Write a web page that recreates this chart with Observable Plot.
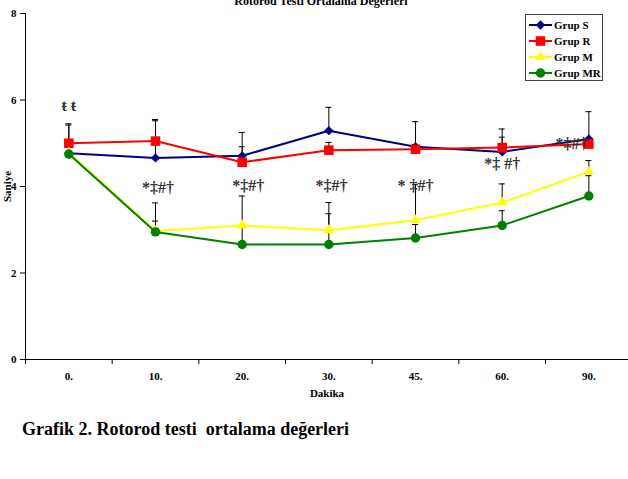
<!DOCTYPE html>
<html>
<head>
<meta charset="utf-8">
<script src="https://cdn.jsdelivr.net/npm/d3@7"></script>
<script src="https://cdn.jsdelivr.net/npm/@observablehq/plot@0.6"></script>
<style>
  body { margin: 0; background: #fff; overflow: hidden; }
  #wrap { position: relative; width: 628px; height: 479px; font-family: "Liberation Serif", "Times New Roman", serif; }
  #chart { position: absolute; left: 0; top: 0; }
  #chart svg text { font-weight: bold; font-family: "Liberation Serif", "Times New Roman", serif; }
  #chart svg text.note { font-weight: normal; }
  #title { position: absolute; top: -6px; left: 221px; width: 200px; text-align: center; font-weight: bold; font-size: 12px; white-space: nowrap; }
  #caption { position: absolute; left: 22px; top: 419px; font-weight: bold; font-size: 18px; white-space: pre; }
  #legend { position: absolute; left: 525px; top: 14px; width: 78px; height: 67px; border: 1px solid #444; background: #fff; box-sizing: border-box; }
  .item { position: absolute; left: 0; height: 14px; display: flex; align-items: center; white-space: nowrap; width: 80px; }
  .item span { font-weight: bold; font-size: 11px; margin-left: 1px; line-height: 14px; white-space: nowrap; }
</style>
</head>
<body>
<div id="wrap">
  <div id="chart"></div>
  <div id="title">Rotorod Testi Ortalama Değerleri</div>
  <div id="legend"></div>
  <div id="caption">Grafik 2. Rotorod testi  ortalama değerleri</div>
</div>
<script>
// Time points (minutes) shown along the x axis
const categories = ["0.", "10.", "20.", "30.", "45.", "60.", "90."];
const groups = ["Grup S", "Grup R", "Grup M", "Grup MR"];
const colors = ["#000080", "#ff0000", "#ffff00", "#008000"];
const symbols = ["diamond2", "square", "triangle", "circle"];
const markerR = [4.2, 5.4, 3.9, 4.7];

// Mean rotarod time (s) per group
const grupS  = [4.77, 4.66, 4.71, 5.29, 4.92, 4.80, 5.10];
const grupR  = [5.00, 5.05, 4.56, 4.84, 4.86, 4.90, 4.98];
const grupM  = [4.78, 2.97, 3.10, 2.99, 3.22, 3.63, 4.34];
const grupMR = [4.75, 2.95, 2.66, 2.66, 2.81, 3.10, 3.78];

// Upper end of the error bar (mean + SD)
const upperS  = [5.45, 5.52, 5.25, 5.83, 5.50, 5.33, 5.73];
const upperR  = [5.42, 5.55, 4.92, 5.02, 4.97, 5.14, 5.08];
const upperM  = [5.05, 3.62, 3.78, 3.63, 4.04, 4.06, 4.60];
const upperMR = [4.95, 3.20, 3.05, 3.37, 3.12, 3.44, 4.25];

// Significance markers: category position and height (s)
const noteText = ["ŧ ŧ", "*‡#†", "*‡#†", "*‡#†", "* ‡#†", "*‡ #†", "*‡#†"];
const noteX    = [0, 1.03, 2.07, 3.03, 4.0, 5.0, 5.8];
const noteY    = [5.87, 3.97, 4.02, 4.02, 4.02, 4.53, 4.99];

const means = [grupS, grupR, grupM, grupMR];
const uppers = [upperS, upperR, upperM, upperMR];

const series = groups.map((g, k) =>
  categories.map((c, i) => ({ g, i, v: means[k][i], hi: uppers[k][i] }))
);
const allRows = series.flat();
const notes = noteText.map((t, j) => ({ t, x: noteX[j], y: noteY[j] }));

const bounds = d3.range(-0.5, categories.length, 1);
const serif = '"Liberation Serif", "Times New Roman", serif';

const plot = Plot.plot({
  width: 628,
  height: 410,
  marginLeft: 25,
  marginRight: 0,
  marginTop: 13,
  marginBottom: 51,
  style: { fontFamily: serif, fontSize: "11px", color: "#000", background: "transparent" },
  x: { domain: [-0.5, categories.length - 0.5], range: [25, 631.7] },
  y: { domain: [0, 8], range: [359, 13] },
  marks: [
    // axes
    Plot.ruleX([-0.5], { y1: 0, y2: 8, stroke: "#000" }),
    Plot.ruleY([0], { stroke: "#000" }),
    Plot.axisY({ ticks: [0, 2, 4, 6, 8], tickSize: 5, tickPadding: 4, fontSize: 11,
      label: "Saniye", labelAnchor: "center", labelArrow: "none", labelOffset: 22 }),
    Plot.axisX({ ticks: bounds, tickFormat: () => "", tickSize: 5, label: null }),
    Plot.axisX({ ticks: d3.range(categories.length), tickFormat: i => categories[i],
      tickSize: 0, tickPadding: 13, fontSize: 11,
      label: "Dakika", labelAnchor: "center", labelArrow: "none", labelOffset: 37 }),
    // error bars (upper only)
    Plot.ruleX(allRows, { x: "i", y1: "v", y2: "hi", stroke: "#000", strokeWidth: 1 }),
    Plot.ruleY(allRows, { y: "hi", x1: d => d.i - 0.035, x2: d => d.i + 0.035, stroke: "#000", strokeWidth: 1 }),
    // each group: line then markers
    ...series.flatMap((rows, k) => [
      Plot.line(rows, { x: "i", y: "v", stroke: colors[k], strokeWidth: 2 }),
      Plot.dot(rows, { x: "i", y: "v", symbol: symbols[k], r: markerR[k], fill: colors[k], stroke: "none" })
    ]),
    // significance labels
    Plot.text(notes, { x: "x", y: "y", text: "t", fontSize: 16, fontFamily: serif, fill: "#333",
      textAnchor: "middle", className: "note" })
  ]
});
document.getElementById("chart").appendChild(plot);

// legend built from the same group definitions
const legend = d3.select("#legend");
groups.forEach((g, k) => {
  const item = legend.append("div").attr("class", "item").style("top", (2.5 + k * 16.3) + "px");
  const svg = item.append("svg").attr("width", 27).attr("height", 14);
  svg.append("line").attr("x1", 3).attr("x2", 26).attr("y1", 7).attr("y2", 7)
    .attr("stroke", colors[k]).attr("stroke-width", 2);
  const sym = { diamond2: d3.symbolDiamond2, square: d3.symbolSquare, triangle: d3.symbolTriangle, circle: d3.symbolCircle }[symbols[k]];
  svg.append("path").attr("transform", "translate(14.5,7)")
    .attr("d", d3.symbol(sym, Math.PI * markerR[k] * markerR[k])())
    .attr("fill", colors[k]);
  item.append("span").text(g);
});
</script>
</body>
</html>
